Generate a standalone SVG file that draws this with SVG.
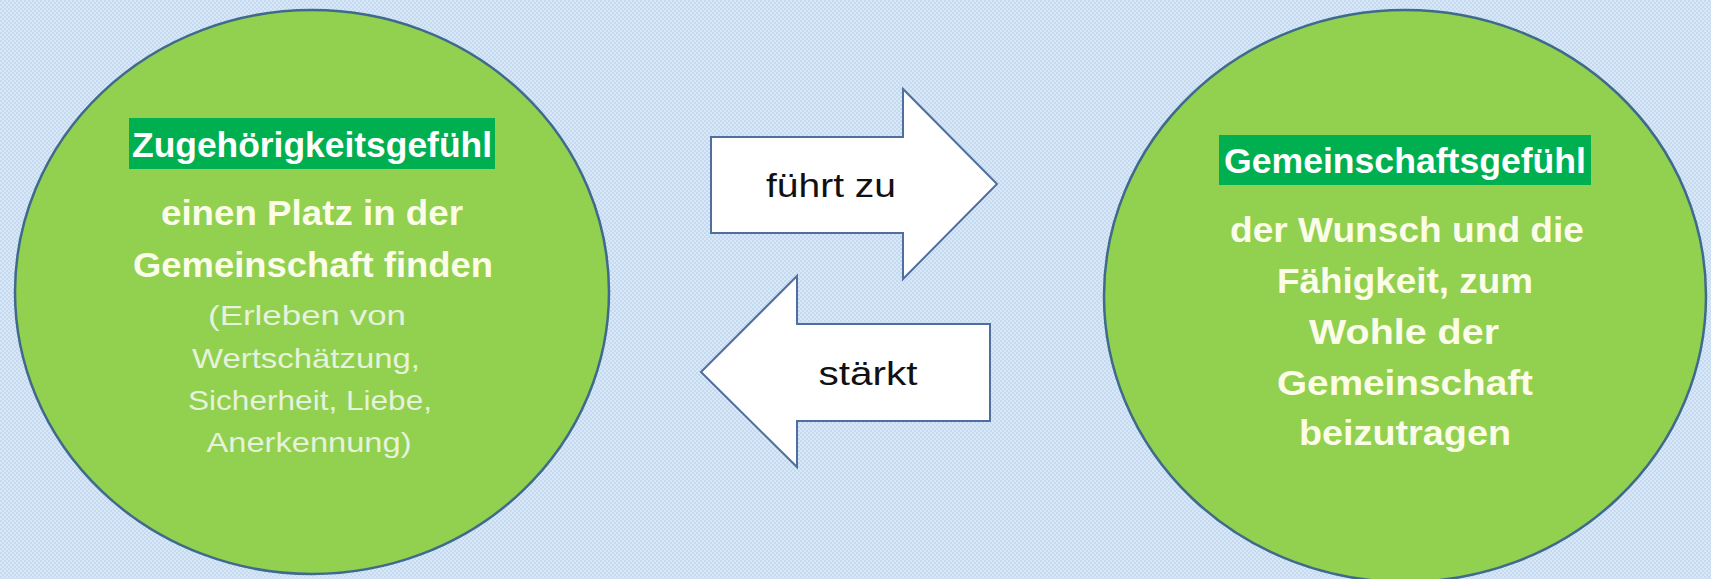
<svg xmlns="http://www.w3.org/2000/svg" width="1711" height="579" viewBox="0 0 1711 579">
  <defs>
    <pattern id="bg" width="4" height="4" patternUnits="userSpaceOnUse">
      <rect width="4" height="4" fill="#d9e7f6"/>
      <rect width="2" height="2" fill="#c4daf0"/>
      <rect x="2" y="2" width="2" height="2" fill="#c4daf0"/>
    </pattern>
  </defs>
  <style>
    .circle { fill: #92d050; stroke: #3f6a8c; stroke-width: 2.5; }
    .hl { fill: #00b050; }
    .title { font-family: "Liberation Sans", Arial, sans-serif; font-weight: bold; font-size: 35px; fill: #ffffff; text-anchor: middle; }
    .body { font-family: "Liberation Sans", Arial, sans-serif; font-weight: bold; font-size: 35px; fill: #fcfde9; text-anchor: middle; }
    .small { font-family: "Liberation Sans", Arial, sans-serif; font-size: 28px; fill: #e6f2dc; text-anchor: middle; }
    .arrow { fill: #ffffff; stroke: #4f6fa0; stroke-width: 2; stroke-linejoin: miter; }
    .alabel { font-family: "Liberation Sans", Arial, sans-serif; font-size: 33px; fill: #111111; text-anchor: middle; }
  </style>
  <rect width="1711" height="579" fill="url(#bg)"/>

  <g id="node-zugehoerigkeit">
    <ellipse class="circle" cx="312" cy="292" rx="297" ry="282"/>
    <rect class="hl" x="129" y="118" width="366" height="51"/>
    <text class="title" x="312" y="157" textLength="360" lengthAdjust="spacingAndGlyphs">Zugehörigkeitsgefühl</text>
    <text class="body" x="312" y="225" textLength="302" lengthAdjust="spacingAndGlyphs">einen Platz in der</text>
    <text class="body" x="313" y="277" textLength="360" lengthAdjust="spacingAndGlyphs">Gemeinschaft finden</text>
    <text class="small" x="307" y="325" textLength="198" lengthAdjust="spacingAndGlyphs">(Erleben von</text>
    <text class="small" x="306" y="368" textLength="228" lengthAdjust="spacingAndGlyphs">Wertschätzung,</text>
    <text class="small" x="310" y="410" textLength="244" lengthAdjust="spacingAndGlyphs">Sicherheit, Liebe,</text>
    <text class="small" x="309" y="452" textLength="205" lengthAdjust="spacingAndGlyphs">Anerkennung)</text>
  </g>

  <g id="node-gemeinschaft">
    <ellipse class="circle" cx="1405" cy="296" rx="301" ry="286"/>
    <rect class="hl" x="1219" y="135" width="372" height="50"/>
    <text class="title" x="1405" y="173" textLength="362" lengthAdjust="spacingAndGlyphs">Gemeinschaftsgefühl</text>
    <text class="body" x="1407" y="242" textLength="354" lengthAdjust="spacingAndGlyphs">der Wunsch und die</text>
    <text class="body" x="1405" y="293" textLength="256" lengthAdjust="spacingAndGlyphs">Fähigkeit, zum</text>
    <text class="body" x="1404" y="344" textLength="190" lengthAdjust="spacingAndGlyphs">Wohle der</text>
    <text class="body" x="1405" y="395" textLength="256" lengthAdjust="spacingAndGlyphs">Gemeinschaft</text>
    <text class="body" x="1405" y="445" textLength="212" lengthAdjust="spacingAndGlyphs">beizutragen</text>
  </g>

  <g id="connectors">
    <g id="arrow-fuehrt-zu">
      <polygon class="arrow" points="711,137 903,137 903,89 997,184 903,279 903,233 711,233"/>
      <text class="alabel" x="831" y="197" textLength="130" lengthAdjust="spacingAndGlyphs">führt zu</text>
    </g>
    <g id="arrow-staerkt">
      <polygon class="arrow" points="990,324 797,324 797,276 701,372 797,467 797,421 990,421"/>
      <text class="alabel" x="868" y="385" textLength="99" lengthAdjust="spacingAndGlyphs">stärkt</text>
    </g>
  </g>
</svg>
